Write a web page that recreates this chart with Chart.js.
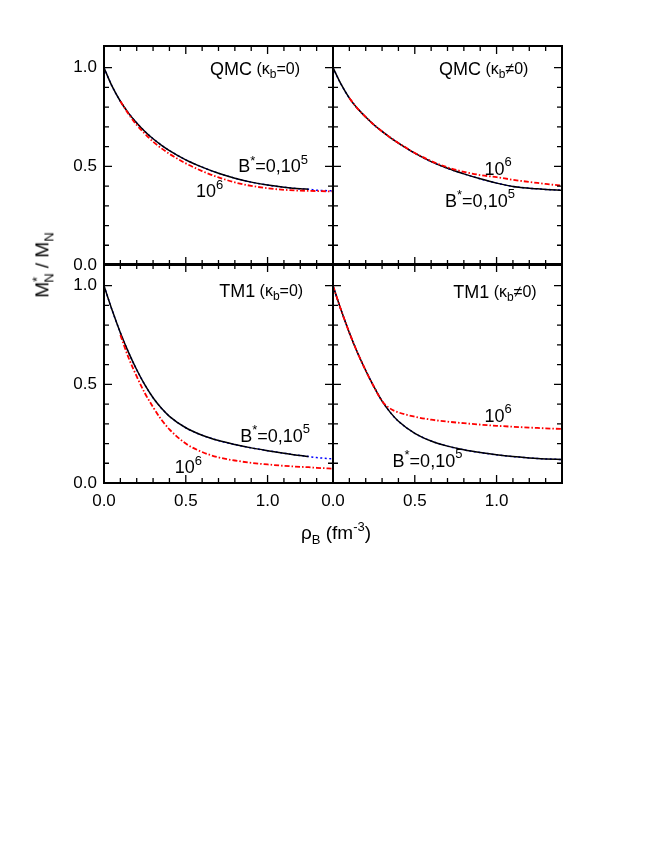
<!DOCTYPE html>
<html>
<head>
<meta charset="utf-8">
<script src="https://cdn.jsdelivr.net/npm/chart.js@4.4.1/dist/chart.umd.min.js"></script>
<style>
html, body { margin: 0; padding: 0; background: #fff; }
#wrap { position: relative; width: 654px; height: 846px; font-family: "Liberation Sans", Arial, sans-serif; color: #000; }
#wrap canvas { position: absolute; left: 0; top: 0; }
.title { position: absolute; font-size: 19px; white-space: nowrap; line-height: 1; }
.title sub, .title sup { font-size: 13px; }
#ytitle { left: 43px; top: 265px; transform: translate(-50%, -50%) rotate(-90deg); }
#xtitle { left: 336px; top: 533px; transform: translate(-50%, -50%); }
</style>
</head>
<body>
<div id="wrap">
  <canvas id="p1" width="654" height="846"></canvas>
  <canvas id="p2" width="654" height="846"></canvas>
  <canvas id="p3" width="654" height="846"></canvas>
  <canvas id="p4" width="654" height="846"></canvas>
  <div class="title" id="ytitle">M<sup>*</sup><sub style="margin-left:-6px">N</sub> / M<sub>N</sub></div>
  <div class="title" id="xtitle">&rho;<sub>B</sub> (fm<sup>-3</sup>)</div>
</div>
<script>
// density grid (fm^-3)
const rho = [0, 0.05, 0.1, 0.15, 0.2, 0.25, 0.3, 0.35, 0.4, 0.5, 0.6, 0.7, 0.8, 0.9, 1.0, 1.1, 1.2, 1.25, 1.3, 1.4];

// QMC, kappa_b = 0
const qmc0_B0 = [1.0, 0.905, 0.83, 0.77, 0.72, 0.677, 0.64, 0.608, 0.58, 0.533, 0.496, 0.465, 0.44, 0.42, 0.405, 0.394, 0.386, 0.384, null, null];
const qmc0_B5 = [1.0, 0.905, 0.83, 0.77, 0.72, 0.677, 0.64, 0.608, 0.58, 0.533, 0.496, 0.465, 0.44, 0.42, 0.405, 0.394, 0.386, 0.384, 0.379, 0.376];
const qmc0_B6 = [null, null, 0.83, 0.765, 0.71, 0.665, 0.625, 0.592, 0.563, 0.515, 0.476, 0.444, 0.419, 0.401, 0.389, 0.381, 0.377, 0.376, 0.375, 0.373];

// QMC, kappa_b != 0
const qmc1_B0 = [1.0, 0.915, 0.846, 0.793, 0.75, 0.711, 0.677, 0.646, 0.618, 0.567, 0.524, 0.49, 0.462, 0.437, 0.415, 0.398, 0.389, 0.386, 0.383, 0.379];
const qmc1_B6 = [null, null, 0.846, 0.793, 0.75, 0.711, 0.677, 0.646, 0.618, 0.568, 0.527, 0.495, 0.472, 0.456, 0.445, 0.432, 0.421, 0.416, 0.411, 0.402];

// TM1, kappa_b = 0
const tm0_B0 = [1.0, 0.875, 0.762, 0.662, 0.574, 0.497, 0.432, 0.38, 0.338, 0.28, 0.242, 0.215, 0.195, 0.178, 0.164, 0.151, 0.139, 0.134, null, null];
const tm0_B5 = [1.0, 0.875, 0.762, 0.662, 0.574, 0.497, 0.432, 0.38, 0.338, 0.28, 0.242, 0.215, 0.195, 0.178, 0.164, 0.151, 0.139, 0.134, 0.129, 0.122];
const tm0_B6 = [null, null, 0.75, 0.635, 0.54, 0.455, 0.385, 0.322, 0.272, 0.2, 0.157, 0.13, 0.114, 0.102, 0.094, 0.087, 0.082, 0.08, 0.077, 0.073];

// TM1, kappa_b != 0
const tm1_B0 = [1.0, 0.875, 0.762, 0.66, 0.57, 0.488, 0.415, 0.358, 0.313, 0.252, 0.213, 0.187, 0.168, 0.154, 0.143, 0.134, 0.127, 0.124, 0.122, 0.119];
const tm1_B6 = [1.0, 0.875, 0.762, 0.66, 0.57, 0.488, 0.415, 0.377, 0.358, 0.336, 0.321, 0.311, 0.303, 0.296, 0.29, 0.285, 0.281, 0.279, 0.277, 0.274];

// tick values
const xMajor = [0, 0.5, 1.0];
const xMinor = [0.1, 0.2, 0.3, 0.4, 0.6, 0.7, 0.8, 0.9, 1.1, 1.2, 1.3];
const yMajor = [0, 0.5, 1.0];
const yMinor = [0.1, 0.2, 0.3, 0.4, 0.6, 0.7, 0.8, 0.9];

// panel annotations: [rho, value, text pieces]
const sup5 = [['B', 18, 0], ['*', 13, -6], ['=0,10', 18, 0], ['5', 13, -7]];
const sup6 = [['10', 18, 0], ['6', 13, -7]];
const labels1 = [
  [0.648, 0.99, [['QMC', 18, 0], [' (\u03ba', 16, 0], ['b', 12, 5], ['=0)', 16, 0]]],
  [0.82, 0.497, sup5],
  [0.562, 0.37, sup6]
];
const labels2 = [
  [0.648, 0.99, [['QMC', 18, 0], [' (\u03ba', 16, 0], ['b', 12, 5], ['\u22600)', 16, 0]]],
  [0.926, 0.482, sup6],
  [0.685, 0.32, sup5]
];
const labels3 = [
  [0.704, 0.97, [['TM1', 18, 0], [' (\u03ba', 16, 0], ['b', 12, 5], ['=0)', 16, 0]]],
  [0.833, 0.234, sup5],
  [0.432, 0.076, sup6]
];
const labels4 = [
  [0.735, 0.964, [['TM1', 18, 0], [' (\u03ba', 16, 0], ['b', 12, 5], ['\u22600)', 16, 0]]],
  [0.926, 0.335, sup6],
  [0.364, 0.107, sup5]
];

const FONT = '"Liberation Sans", Arial, sans-serif';
Chart.defaults.font.family = FONT;
Chart.defaults.color = '#000';

function drawRich(ctx, x, y, pieces) {
  ctx.textBaseline = 'middle';
  ctx.textAlign = 'left';
  pieces.forEach(([t, size, dy]) => {
    ctx.font = size + 'px ' + FONT;
    ctx.fillText(t, x, y + dy);
    x += ctx.measureText(t).width;
  });
}

// frame, inward ticks and panel texts
const framePlugin = {
  id: 'frame',
  afterDatasetsDraw(chart) {
    const { ctx, chartArea: a, scales: { x, y } } = chart;
    ctx.save();
    ctx.strokeStyle = '#000';
    ctx.lineWidth = 1.3;
    ctx.beginPath();
    const tick = (vals, len) => {
      vals.forEach(v => {
        const px = x.getPixelForValue(v);
        ctx.moveTo(px, a.bottom); ctx.lineTo(px, a.bottom - len);
        ctx.moveTo(px, a.top); ctx.lineTo(px, a.top + len);
      });
    };
    const ytick = (vals, len) => {
      vals.forEach(v => {
        const py = y.getPixelForValue(v);
        ctx.moveTo(a.left, py); ctx.lineTo(a.left + len, py);
        ctx.moveTo(a.right, py); ctx.lineTo(a.right - len, py);
      });
    };
    tick(xMajor, 8); tick(xMinor, 5);
    ytick(yMajor, 8); ytick(yMinor, 5);
    ctx.stroke();
    ctx.lineWidth = 2;
    ctx.strokeRect(a.left, a.top, a.width, a.height);
    ctx.fillStyle = '#000';
    (chart.options.plugins.frame.texts || []).forEach(([rx, ry, pieces]) => {
      drawRich(ctx, x.getPixelForValue(rx), y.getPixelForValue(ry), pieces);
    });
    ctx.restore();
  }
};

function makePanel(id, rect, red, black, blue, texts, showX, showY) {
  const [left, top, right, bottom] = rect;
  new Chart(document.getElementById(id), {
    type: 'line',
    data: {
      labels: rho,
      datasets: [
        { data: red, borderColor: '#ff0000', borderWidth: 1.8, borderDash: [5, 2, 1.5, 2] },
        { data: black, borderColor: '#000000', borderWidth: 1.5 },
        { data: blue, borderColor: '#0000ff', borderWidth: 1.5, borderDash: [2, 2.5] }
      ]
    },
    options: {
      responsive: false,
      animation: false,
      devicePixelRatio: 1,
      layout: { padding: { left: left - 40, top: top, right: 654 - right, bottom: 846 - bottom - 30 } },
      elements: { point: { radius: 0 }, line: { cubicInterpolationMode: 'monotone', fill: false } },
      plugins: { legend: { display: false }, tooltip: { enabled: false }, frame: { texts: texts } },
      scales: {
        x: {
          type: 'linear', min: 0, max: 1.4,
          afterBuildTicks: s => { s.ticks = xMajor.map(v => ({ value: v })); },
          afterFit: s => { s.height = 30; },
          grid: { display: false, drawTicks: false },
          border: { display: false },
          ticks: { display: showX, padding: 8, font: { size: 17 }, maxRotation: 0, callback: v => v.toFixed(1) }
        },
        y: {
          type: 'linear', min: 0, max: 1.11,
          afterBuildTicks: s => { s.ticks = yMajor.map(v => ({ value: v })); },
          afterFit: s => { s.width = 40; },
          grid: { display: false, drawTicks: false },
          border: { display: false },
          ticks: { display: showY, padding: 7, font: { size: 17 }, callback: v => v.toFixed(1) }
        }
      }
    },
    plugins: [framePlugin]
  });
}

makePanel('p1', [104, 46, 333, 265], qmc0_B6, qmc0_B0, qmc0_B5, labels1, false, true);
makePanel('p2', [333, 46, 562, 265], qmc1_B6, qmc1_B0, qmc1_B0, labels2, false, false);
makePanel('p3', [104, 264, 333, 483], tm0_B6, tm0_B0, tm0_B5, labels3, true, true);
makePanel('p4', [333, 264, 562, 483], tm1_B6, tm1_B0, tm1_B0, labels4, true, false);
</script>
</body>
</html>
